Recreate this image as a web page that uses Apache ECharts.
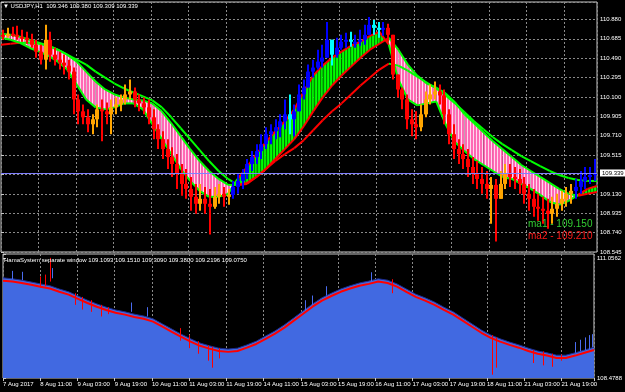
<!DOCTYPE html>
<html>
<head>
<meta charset="utf-8">
<script src="https://cdn.jsdelivr.net/npm/echarts/dist/echarts.min.js"></script>
<style>
html,body{margin:0;padding:0;background:#000;}
#chart{width:625px;height:392px;}
</style>
</head>
<body>
<div id="chart"></div>
<script>
// ---------- DATA ----------
const timeLabels = ['7 Aug 2017','8 Aug 11:00','9 Aug 03:00','9 Aug 19:00','10 Aug 11:00','11 Aug 03:00','11 Aug 19:00','14 Aug 11:00','15 Aug 03:00','15 Aug 19:00','16 Aug 11:00','17 Aug 03:00','17 Aug 19:00','18 Aug 11:00','21 Aug 03:00','21 Aug 19:00'];
const priceTickLabels = ['108.545','108.740','108.935','109.130','','109.515','109.710','109.905','110.100','110.295','110.490','110.685','110.880'];
const subTickLabels = ['108.4788','111.0562'];
const lastPrice = 109.339;
const firstOpen = 110.73;

// price bars (one per two H1 bars)
const priceHigh = [110.78,110.80,110.81,110.82,110.78,110.76,110.74,110.68,110.63,110.83,
110.76,110.60,110.56,110.53,110.48,110.40,110.13,110.03,109.98,109.93,
110.03,110.08,110.05,110.08,110.10,110.13,110.23,110.28,110.20,110.13,
110.10,110.08,109.98,109.83,109.76,109.68,109.60,109.53,109.43,109.38,
109.30,109.23,109.23,109.20,109.18,109.20,109.23,109.20,109.18,109.26,
109.33,109.38,109.48,109.56,109.63,109.73,109.80,109.83,109.88,109.93,
110.08,110.13,110.03,110.23,110.28,110.43,110.48,110.58,110.63,110.86,
110.63,110.70,110.73,110.75,110.76,110.73,110.78,110.83,110.91,110.88,
110.86,110.86,110.84,110.70,110.30,110.20,110.13,109.98,109.96,110.03,
110.16,110.23,110.26,110.23,110.18,109.98,109.83,109.68,109.63,109.58,
109.50,109.46,109.40,109.36,109.30,109.28,109.36,109.43,109.43,109.40,
109.38,109.30,109.23,109.18,109.13,109.10,109.08,109.10,109.13,109.16,
109.20,109.23,109.28,109.36,109.40,109.40,109.48];
const priceLow = [110.68,110.70,110.71,110.68,110.66,110.64,110.60,110.50,110.43,110.38,
110.46,110.42,110.38,110.33,110.28,109.93,109.83,109.83,109.75,109.73,
109.80,109.66,109.83,109.73,109.93,109.96,110.03,110.08,110.00,109.96,
109.93,109.83,109.68,109.58,109.48,109.38,109.30,109.18,109.11,109.08,
108.96,108.93,108.96,108.93,108.72,108.98,109.03,109.00,109.02,109.08,
109.13,109.18,109.28,109.36,109.43,109.48,109.58,109.63,109.68,109.70,
109.78,109.73,109.71,109.98,110.08,110.23,110.30,110.38,110.40,110.58,
110.42,110.50,110.58,110.60,110.61,110.60,110.62,110.63,110.73,110.73,
110.70,110.72,110.66,110.28,110.10,109.98,109.78,109.71,109.68,109.76,
109.90,110.03,110.08,110.03,109.83,109.63,109.48,109.43,109.38,109.30,
109.23,109.18,109.13,109.08,108.83,108.65,109.08,109.18,109.20,109.18,
109.13,109.03,108.96,108.90,108.86,108.83,108.78,108.83,108.90,108.96,
109.00,109.03,109.08,109.13,109.18,109.23,109.26];
const priceClose = [110.72,110.74,110.73,110.71,110.70,110.68,110.63,110.56,110.48,110.68,
110.53,110.48,110.45,110.42,110.36,110.08,109.96,109.90,109.83,109.88,
109.98,109.96,109.93,110.00,110.03,110.08,110.13,110.16,110.08,110.04,
110.00,109.90,109.78,109.68,109.58,109.50,109.43,109.33,109.23,109.18,
109.10,109.03,109.08,109.03,109.00,109.10,109.13,109.10,109.12,109.20,
109.26,109.33,109.43,109.50,109.56,109.63,109.73,109.76,109.80,109.86,
109.93,109.88,109.96,110.13,110.20,110.36,110.40,110.46,110.50,110.68,
110.53,110.60,110.66,110.68,110.66,110.66,110.68,110.73,110.83,110.80,
110.78,110.80,110.73,110.33,110.18,110.08,109.88,109.83,109.80,109.93,
110.08,110.13,110.16,110.12,109.93,109.73,109.58,109.53,109.48,109.40,
109.33,109.28,109.23,109.18,109.22,109.08,109.23,109.33,109.30,109.28,
109.23,109.13,109.08,109.00,108.98,108.96,108.93,108.98,109.03,109.08,
109.13,109.16,109.20,109.26,109.30,109.32,109.339];

// HAMA band edges and slow MA (one value per four H1 bars)
const bandA = [110.74,110.73,110.71,110.68,110.65,110.62,110.58,110.53,110.46,110.36,
110.26,110.18,110.13,110.10,110.08,110.07,110.04,109.96,109.84,109.71,
109.58,109.46,109.36,109.28,109.22,109.22,109.24,109.30,109.38,109.48,
109.58,109.68,109.81,109.96,110.10,110.22,110.32,110.41,110.50,110.58,
110.64,110.70,110.58,110.43,110.32,110.24,110.20,110.14,110.05,109.93,
109.84,109.75,109.66,109.58,109.50,109.42,109.36,109.30,109.24,109.18,
109.13,109.11,109.13,109.15];
const bandB = [110.70,110.68,110.65,110.60,110.56,110.52,110.46,110.38,110.23,110.08,
110.00,109.98,110.00,110.04,110.04,109.98,109.83,109.68,109.53,109.38,
109.26,109.16,109.10,109.10,109.13,109.28,109.40,109.53,109.65,109.76,
109.86,109.98,110.16,110.32,110.42,110.50,110.56,110.62,110.66,110.72,
110.76,110.63,110.28,110.08,110.02,110.04,110.06,109.83,109.65,109.56,
109.48,109.42,109.36,109.30,109.28,109.23,109.18,109.12,109.05,109.02,
109.06,109.12,109.18,109.21];
const slowMA = [110.63,110.64,110.65,110.65,110.64,110.62,110.58,110.53,110.48,110.43,
110.36,110.30,110.24,110.19,110.15,110.11,110.07,110.00,109.90,109.79,
109.68,109.57,109.46,109.36,109.28,109.22,109.23,109.30,109.38,109.46,
109.53,109.59,109.67,109.77,109.87,109.96,110.04,110.13,110.22,110.30,
110.38,110.44,110.42,110.37,110.31,110.25,110.19,110.12,110.04,109.95,
109.86,109.78,109.70,109.63,109.57,109.51,109.46,109.41,109.36,109.32,
109.29,109.27,109.26,109.26];

// separate window
const subLevel = [110.63,110.61,110.58,110.54,110.50,110.46,110.39,110.33,110.24,110.15,
110.07,110.00,109.94,109.90,109.85,109.81,109.75,109.64,109.53,109.42,
109.32,109.23,109.17,109.12,109.10,109.12,109.19,109.27,109.38,109.49,
109.62,109.77,109.92,110.07,110.20,110.30,110.39,110.46,110.52,110.56,
110.61,110.58,110.50,110.39,110.28,110.20,110.11,110.00,109.90,109.77,
109.64,109.51,109.40,109.32,109.25,109.19,109.12,109.06,109.02,108.97,
108.97,109.02,109.08,109.14];
const subRed = [110.57,110.55,110.52,110.48,110.44,110.40,110.33,110.27,110.18,110.09,
110.01,109.94,109.88,109.84,109.79,109.75,109.69,109.58,109.47,109.36,
109.26,109.17,109.11,109.06,109.04,109.06,109.13,109.21,109.32,109.43,
109.56,109.71,109.86,110.01,110.14,110.24,110.33,110.40,110.46,110.50,
110.55,110.52,110.44,110.33,110.22,110.14,110.05,109.94,109.84,109.71,
109.58,109.45,109.34,109.26,109.19,109.13,109.06,109.00,108.96,108.91,
108.91,108.96,109.02,109.08];
const spikeBar  = [4,8,16,18,20,21,31,34,38,42,45,55,62,76,80,84,88,90,93,130,133,139,158,167,210,212,228,232,236,240,246,248,250,252,253];
const spikeLow  = [110.60,110.58,110.42,110.45,110.55,110.62,110.05,109.95,109.90,109.80,109.85,109.90,109.80,109.28,109.12,109.00,108.85,108.70,108.90,109.92,110.05,110.25,110.56,110.30,108.55,108.70,108.80,108.75,108.72,108.85,109.02,109.05,109.08,109.10,109.14];
const spikeHigh = [110.78,110.76,110.66,110.70,111.06,110.84,110.30,110.22,110.15,110.05,110.00,110.10,110.00,109.55,109.40,109.27,109.18,109.15,109.12,110.15,110.25,110.45,110.75,110.60,109.40,109.35,109.08,109.05,109.00,108.98,109.25,109.30,109.35,109.40,109.42];
const spikeKind = ['u','u','d','d','d','u','d','d','d','d','d','u','u','d','d','d','d','d','d','u','u','u','u','d','d','d','d','d','d','d','u','u','u','u','u'];

// ---------- BUILD ----------
const NB = 254;                       // H1 bars across the chart
const LX = j => j * NB / (bandA.length - 1);
const FONT = 'Liberation Sans';

function stripePattern(cols) {
  const c = document.createElement('canvas');
  c.width = cols.length; c.height = 1;
  const g = c.getContext('2d');
  cols.forEach((col, i) => { g.fillStyle = col; g.fillRect(i, 0, 1, 1); });
  return { image: c, repeat: 'repeat' };
}
const pinkPat = stripePattern(['#ff69b4', '#ff69b4', '#ffd8ee']);
const greenPat = stripePattern(['#00ee00', '#00ff00', '#008a00']);

const bandData = [];
for (let j = 0; j < bandA.length - 1; j++) {
  bandData.push([LX(j), bandA[j], bandB[j], LX(j + 1), bandA[j + 1], bandB[j + 1], slowMA[j], slowMA[j + 1]]);
}

const candleData = priceClose.map((c, k) => {
  const o = k === 0 ? firstOpen : priceClose[k - 1];
  const x = 2 * k + 1;
  const jj = Math.round(x * (bandA.length - 1) / NB);
  const down = bandA[jj] > bandB[jj];
  const bull = c >= o;
  const col = down ? (bull ? '#ffa500' : '#ff0000') : (bull ? '#0000ff' : '#00ffff');
  return { value: [x, o, c, priceLow[k], priceHigh[k]], itemStyle: { color: col } };
});

const spikeData = spikeBar.map((b, i) => ({
  value: [b, spikeLow[i], spikeHigh[i]],
  itemStyle: { color: spikeKind[i] === 'd' ? '#ff0000' : '#4a6cf0' }
}));

const dotted = { color: '#8a8a8a', type: [2, 2], width: 1 };

const option = {
  animation: false,
  backgroundColor: '#000',
  textStyle: { fontFamily: FONT },
  grid: [
    { left: 1, right: 28, top: 2, height: 250, show: true, borderColor: '#c8c8c8', borderWidth: 1, backgroundColor: '#000' },
    { left: 1, right: 28, top: 254, height: 124, show: true, borderColor: '#c8c8c8', borderWidth: 1, backgroundColor: '#000' }
  ],
  xAxis: [
    { type: 'value', gridIndex: 0, min: 0, max: NB, interval: 16,
      axisLabel: { show: false }, axisLine: { show: false }, axisTick: { show: false },
      splitLine: { show: true, lineStyle: dotted } },
    { type: 'value', gridIndex: 1, min: 0, max: NB, interval: 16,
      axisLine: { show: false },
      axisTick: { show: true, length: 3, lineStyle: { color: '#c8c8c8' } },
      axisLabel: { show: true, color: '#fff', fontSize: 6, fontFamily: FONT, align: 'left', margin: 3,
        formatter: v => timeLabels[Math.round(v / 16)] || '' },
      splitLine: { show: true, lineStyle: dotted } }
  ],
  yAxis: [
    { type: 'value', gridIndex: 0, position: 'right', min: 108.545, max: 111.06, interval: 0.195,
      axisLine: { show: false },
      axisTick: { show: true, length: 3, lineStyle: { color: '#c8c8c8' } },
      axisLabel: { color: '#fff', fontSize: 6, fontFamily: FONT, margin: 3,
        formatter: v => { const i = Math.round((v - 108.545) / 0.195); return priceTickLabels[i] || ''; } },
      splitLine: { show: true, lineStyle: dotted } },
    { type: 'value', gridIndex: 1, position: 'right', min: 108.4788, max: 111.142, interval: 2.5774,
      axisLine: { show: false },
      axisTick: { show: true, length: 3, lineStyle: { color: '#c8c8c8' } },
      axisLabel: { color: '#fff', fontSize: 6, fontFamily: FONT, margin: 3,
        formatter: v => { const i = Math.round((v - 108.4788) / 2.5774); return Math.abs(v - (108.4788 + i * 2.5774)) < 0.002 ? (subTickLabels[i] || '') : ''; } },
      splitLine: { show: false } }
  ],
  series: [
    { // HAMA band histogram
      type: 'custom', xAxisIndex: 0, yAxisIndex: 0, silent: true, clip: true, z: 2,
      data: bandData, encode: { x: [0, 3], y: [1, 2, 4, 5] },
      renderItem: (params, api) => {
        const x0 = api.value(0), a0 = api.value(1), b0 = api.value(2), x1 = api.value(3), a1 = api.value(4), b1 = api.value(5);
        const down = (a0 + a1) > (b0 + b1);
        return { type: 'polygon', shape: { points: [api.coord([x0, a0]), api.coord([x1, a1]), api.coord([x1, b1]), api.coord([x0, b0])] },
          style: { fill: down ? pinkPat : greenPat, stroke: null } };
      }
    },
    { // MA lines
      type: 'custom', xAxisIndex: 0, yAxisIndex: 0, silent: true, clip: true, z: 3,
      data: bandData, encode: { x: [0, 3], y: [1, 2, 4, 5] },
      renderItem: (params, api) => {
        const x0 = api.value(0), a0 = api.value(1), b0 = api.value(2), x1 = api.value(3), a1 = api.value(4), b1 = api.value(5), s0 = api.value(6), s1 = api.value(7);
        const down = (a0 + a1) > (b0 + b1);
        const bc = down ? '#00ff00' : '#ff0000';
        const sc = s1 > s0 ? '#ff0000' : '#00ff00';
        return { type: 'group', children: [
          { type: 'polyline', shape: { points: [api.coord([x0, s0]), api.coord([x1, s1])] }, style: { stroke: sc, lineWidth: 2, fill: null } },
          { type: 'polyline', shape: { points: [api.coord([x0, a0]), api.coord([x1, a1])] }, style: { stroke: bc, lineWidth: 2, fill: null } },
          { type: 'polyline', shape: { points: [api.coord([x0, b0]), api.coord([x1, b1])] }, style: { stroke: bc, lineWidth: 2, fill: null } }
        ] };
      }
    },
    { // price bars
      type: 'custom', xAxisIndex: 0, yAxisIndex: 0, silent: true, clip: true, z: 4,
      data: candleData, encode: { x: 0, y: [1, 2, 3, 4] },
      renderItem: (params, api) => {
        const x = api.value(0), o = api.value(1), c = api.value(2), l = api.value(3), h = api.value(4);
        const col = api.visual('color');
        const pH = api.coord([x, Math.max(h, o, c)]), pL = api.coord([x, Math.min(l, o, c)]);
        const pO = api.coord([x, o]), pC = api.coord([x, c]);
        const top = Math.min(pO[1], pC[1]), bot = Math.max(pO[1], pC[1]);
        const cx = Math.round(pH[0]);
        return { type: 'group', children: [
          { type: 'rect', shape: { x: cx - 1, y: pH[1], width: 2, height: Math.max(pL[1] - pH[1], 1) }, style: { fill: col } },
          { type: 'rect', shape: { x: cx - 2, y: top, width: 4, height: Math.max(bot - top, 2) }, style: { fill: col } }
        ] };
      }
    },
    { // current price line
      type: 'line', xAxisIndex: 0, yAxisIndex: 0, data: [], silent: true, z: 5,
      markLine: { silent: true, symbol: ['none', 'none'], animation: false,
        lineStyle: { color: '#8080ff', type: 'solid', width: 1 },
        label: { position: 'end', formatter: lastPrice.toFixed(3), color: '#000', backgroundColor: '#fff', fontSize: 6, fontFamily: FONT, padding: [1, 2, 0, 2], distance: 3 },
        data: [{ yAxis: lastPrice }] }
    },
    { // separate window fill
      type: 'line', xAxisIndex: 1, yAxisIndex: 1, symbol: 'none', silent: true, z: 2,
      data: subLevel.map((v, j) => [LX(j), v]),
      lineStyle: { color: '#1c2a8c', width: 1 },
      areaStyle: { color: '#4169e1', opacity: 1, origin: 'start' }
    },
    { // spikes
      type: 'custom', xAxisIndex: 1, yAxisIndex: 1, silent: true, clip: true, z: 3,
      data: spikeData, encode: { x: 0, y: [1, 2] },
      renderItem: (params, api) => {
        const x = api.value(0);
        const p1 = api.coord([x, api.value(1)]), p2 = api.coord([x, api.value(2)]);
        const cx = Math.round(p1[0]) + 0.5;
        return { type: 'line', shape: { x1: cx, y1: p1[1], x2: cx, y2: p2[1] }, style: { stroke: api.visual('color'), lineWidth: 1 } };
      }
    },
    { // red signal line
      type: 'line', xAxisIndex: 1, yAxisIndex: 1, symbol: 'none', silent: true, z: 4,
      data: subRed.map((v, j) => [LX(j), v]),
      lineStyle: { color: '#ff0000', width: 2 }
    }
  ],
  graphic: [
    { type: 'text', left: 3, top: 3, z: 100, silent: true,
      style: { text: '\u25BC USDJPY,H1  109.346 109.380 109.309 109.339', fill: '#fff', font: '6px "Liberation Sans", "DejaVu Sans"' } },
    { type: 'text', left: 4, top: 257, z: 100, silent: true,
      style: { text: 'HamaSystem separate window 109.1093 109.1510 109.3090 109.3800 109.2196 109.0750', fill: '#fff', font: '6px "Liberation Sans"' } },
    { type: 'text', left: 528, top: 219, z: 100, silent: true,
      style: { text: 'ma1 - 109.150', fill: '#32cd32', font: '10px "Liberation Sans"' } },
    { type: 'text', left: 528, top: 231, z: 100, silent: true,
      style: { text: 'ma2 - 109.210', fill: '#ff1a1a', font: '10px "Liberation Sans"' } }
  ]
};

const chart = echarts.init(document.getElementById('chart'), null, { renderer: 'canvas' });
chart.setOption(option);
</script>
</body>
</html>
